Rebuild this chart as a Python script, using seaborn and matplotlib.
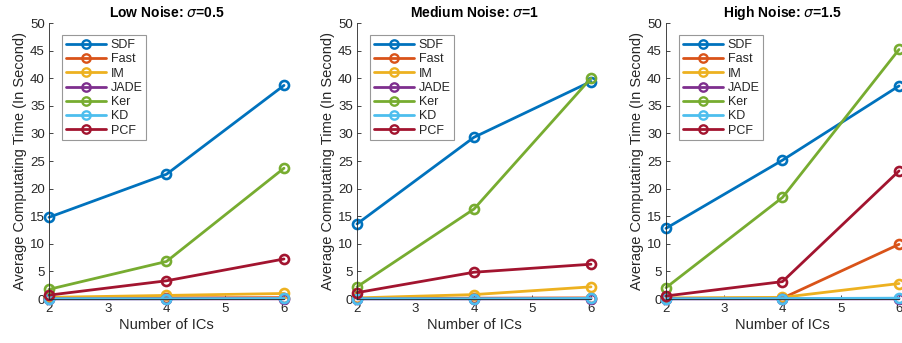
import numpy as np
import pandas as pd
import matplotlib
matplotlib.use("Agg")
import matplotlib.pyplot as plt
import seaborn as sns

# ---- data ----
n_ics = [2, 4, 6]
methods = ["SDF", "Fast", "IM", "JADE", "Ker", "KD", "PCF"]
titles = [r"Low Noise: $\sigma$=0.5", r"Medium Noise: $\sigma$=1", r"High Noise: $\sigma$=1.5"]

low_sdf = [14.8, 22.6, 38.7]
low_fast = [0.15, 0.2, 0.25]
low_im = [0.3, 0.65, 1.0]
low_jade = [0.02, 0.02, 0.03]
low_ker = [1.75, 6.8, 23.7]
low_kd = [0.05, 0.05, 0.1]
low_pcf = [0.7, 3.3, 7.25]

med_sdf = [13.6, 29.3, 39.4]
med_fast = [0.1, 0.15, 0.2]
med_im = [0.2, 0.8, 2.2]
med_jade = [0.02, 0.02, 0.03]
med_ker = [2.2, 16.3, 40.0]
med_kd = [0.05, 0.05, 0.1]
med_pcf = [1.15, 4.85, 6.3]

high_sdf = [12.8, 25.15, 38.6]
high_fast = [0.1, 0.15, 9.9]
high_im = [0.2, 0.3, 2.8]
high_jade = [0.02, 0.02, 0.03]
high_ker = [2.05, 18.4, 45.2]
high_kd = [0.05, 0.08, 0.15]
high_pcf = [0.55, 3.15, 23.2]

panels = [
    [low_sdf, low_fast, low_im, low_jade, low_ker, low_kd, low_pcf],
    [med_sdf, med_fast, med_im, med_jade, med_ker, med_kd, med_pcf],
    [high_sdf, high_fast, high_im, high_jade, high_ker, high_kd, high_pcf],
]

colors = ["#0072BD", "#D95319", "#EDB120", "#7E2F8E", "#77AC30", "#4DBEEE", "#A2142F"]

sns.set_style("white")
plt.rcParams["font.family"] = ["Liberation Sans", "DejaVu Sans"]
plt.rcParams["mathtext.fontset"] = "dejavusans"

fig = plt.figure(figsize=(9.03, 3.43), dpi=100)
W, H = 903, 343
lefts = [49, 357, 666]
widths = [235, 234, 233]
top_px, bot_px = 23, 299
txt = "#262626"

for i, vals in enumerate(panels):
    ax = fig.add_axes([lefts[i] / W, (H - bot_px) / H, widths[i] / W, (bot_px - top_px) / H])
    rows = []
    for m, v in zip(methods, vals):
        for x, y in zip(n_ics, v):
            rows.append({"ICs": x, "time": y, "method": m})
    df = pd.DataFrame(rows)
    sns.lineplot(data=df, x="ICs", y="time", hue="method", hue_order=methods,
                 palette=colors, marker="o", markersize=6.5, markerfacecolor="none",
                 markeredgewidth=1.9, linewidth=2.0, ax=ax, clip_on=False,
                 legend=True)
    for ln in ax.get_lines():
        ln.set_markerfacecolor("none")
        ln.set_markeredgecolor(ln.get_color())
    ax.set_xlim(2, 6)
    ax.set_ylim(0, 50)
    ax.set_xticks([2, 3, 4, 5, 6])
    ax.set_yticks(np.arange(0, 51, 5))
    ax.tick_params(direction="in", length=3, width=0.6, colors=txt, labelsize=9.5,
                   pad=3, left=True, bottom=True)
    for s in ["top", "right"]:
        ax.spines[s].set_visible(False)
    for s in ["left", "bottom"]:
        ax.spines[s].set_color(txt)
        ax.spines[s].set_linewidth(0.6)
    ax.set_xlabel("Number of ICs", fontsize=10.5, color=txt, labelpad=2)
    ax.set_ylabel("Average Computating Time (In Second)", fontsize=10.5, color=txt, labelpad=2)
    ax.set_title(titles[i], fontsize=10, fontweight="bold", color="black", pad=4)
    ax.set_facecolor("white")
    leg = ax.legend(loc="upper left", bbox_to_anchor=(0.055, 0.955), fontsize=9,
                    frameon=True, fancybox=False, handlelength=3.2, handletextpad=0.4,
                    labelspacing=0.18, borderpad=0.3, borderaxespad=0)
    leg.get_frame().set_edgecolor("#7f7f7f")
    leg.get_frame().set_linewidth(0.8)
    for h in leg.legend_handles:
        h.set_markerfacecolor("none")
        h.set_markeredgecolor(h.get_color())
        h.set_markersize(6)
        h.set_markeredgewidth(1.7)
        h.set_linewidth(2.0)

fig.savefig("out.png", dpi=100, facecolor="white")
